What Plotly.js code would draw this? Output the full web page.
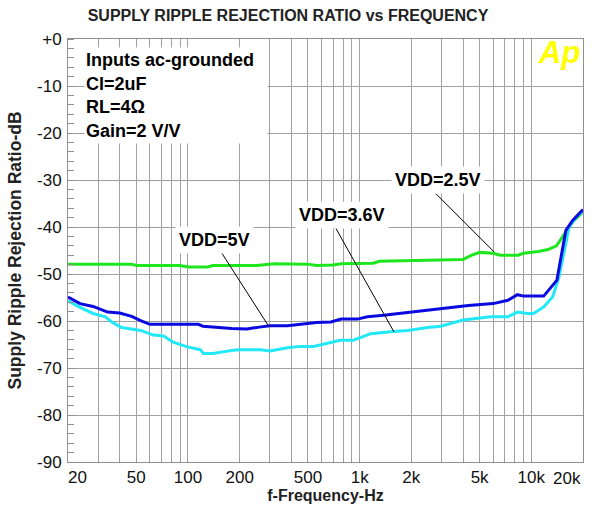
<!DOCTYPE html>
<html>
<head>
<meta charset="utf-8">
<script src="https://cdn.plot.ly/plotly-3.0.1.min.js"></script>
<style>html,body{margin:0;padding:0;background:#fff}#chart{width:592px;height:508px}</style>
</head>
<body>
<div id="chart"></div>
<script>
// ---- data ----
const vdd25Freq = [20, 30, 47, 50, 90, 100, 130, 140, 250, 320, 500, 560, 700, 780, 1200, 1300, 3000, 4000, 4500, 5000, 6000, 6600, 8400, 9000, 11000, 12500, 14000, 15200, 16300, 17500, 18600, 20000];
const vdd25Db   = [-47.9, -47.9, -47.9, -48.2, -48.2, -48.5, -48.5, -48.2, -48.2, -47.8, -47.9, -48.2, -48.1, -47.8, -47.7, -47.3, -47.0, -46.9, -46.0, -45.4, -45.6, -46.0, -46.0, -45.6, -45.2, -44.8, -44.0, -42.0, -40.3, -38.8, -37.9, -36.8];

const vdd5Freq = [20, 23.5, 28, 34, 40, 47, 53, 60, 115, 122, 180, 220, 260, 300, 380, 500, 560, 680, 780, 970, 1110, 1380, 1730, 2060, 2700, 4000, 4300, 6000, 7300, 8300, 9000, 11800, 12600, 14100, 14900, 15900, 17400, 20000];
const vdd5Db   = [-54.9, -56.3, -56.9, -58.1, -58.3, -59.0, -59.9, -60.7, -60.7, -61.1, -61.6, -61.7, -61.3, -61.0, -61.0, -60.6, -60.3, -60.2, -59.6, -59.6, -59.1, -58.8, -58.4, -58.1, -57.6, -56.9, -56.7, -56.3, -55.6, -54.4, -54.7, -54.7, -53.5, -51.3, -46.4, -40.7, -38.6, -36.3];

const vdd36Freq = [20, 23.5, 28, 33, 36, 41, 53, 63, 72, 82, 99, 118, 123, 140, 184, 200, 265, 300, 380, 450, 540, 650, 770, 920, 1010, 1160, 1510, 1900, 2490, 2970, 4000, 5800, 7300, 8300, 9500, 10300, 11800, 13300, 14500, 15500, 16600, 18600, 20000];
const vdd36Db   = [-55.7, -57.1, -58.4, -59.1, -60.2, -61.4, -62.0, -63.0, -63.2, -64.5, -65.5, -66.1, -66.9, -66.9, -66.2, -66.1, -66.1, -66.4, -65.7, -65.4, -65.4, -64.8, -64.1, -64.1, -63.5, -62.7, -62.3, -62.0, -61.4, -61.1, -59.8, -59.1, -59.1, -58.1, -58.4, -58.4, -57.0, -54.9, -50.6, -45.0, -40.0, -37.5, -36.8];

const xTickVals = [20, 30, 40, 50, 60, 70, 80, 90, 100, 200, 300, 400, 500, 600, 700, 800, 900, 1000, 2000, 3000, 4000, 5000, 6000, 7000, 8000, 9000, 10000, 20000];
const xTickText = ['20', '', '', '50', '', '', '', '', '100', '200', '', '', '500', '', '', '', '', '1k', '2k', '', '', '5k', '', '', '', '', '10k', '20k'];
const yTickVals = [0, -10, -20, -30, -40, -50, -60, -70, -80, -90];
const yTickText = ['+0', '-10', '-20', '-30', '-40', '-50', '-60', '-70', '-80', '-90'];

const seriesNames = ['VDD=2.5V', 'VDD=3.6V', 'VDD=5V'];
const infoLines = ['Inputs ac-grounded', 'Cl=2uF', 'RL=4\u03A9', 'Gain=2 V/V'];
const titleText = 'SUPPLY RIPPLE REJECTION RATIO vs FREQUENCY';
const xTitle = 'f-Frequency-Hz';
const yTitle = 'Supply Ripple Rejection Ratio-dB';

// ---- build ----
const FONT = 'Liberation Sans, Arial, sans-serif';
const NB = '\u00a0';
const lastIdx = xTickText.length - 1;
const xText = xTickText.slice();
xText[0] = NB.repeat(4) + xText[0];
xText[lastIdx] = '';   // last label drawn right-aligned below (it sits at the plot edge)

const traces = [
  {x: vdd25Freq, y: vdd25Db, name: seriesNames[0], mode: 'lines', line: {color: '#1ee61e', width: 3}},
  {x: vdd36Freq, y: vdd36Db, name: seriesNames[1], mode: 'lines', line: {color: '#22e8f8', width: 3}},
  {x: vdd5Freq,  y: vdd5Db,  name: seriesNames[2], mode: 'lines', line: {color: '#0a0ae0', width: 3}}
];

const gridC = '#a0a0a0';
const lg = Math.log10;

function arrow(f, db, ax, ay) {
  return {x: lg(f), y: db, xref: 'x', yref: 'y', text: '', showarrow: true, arrowhead: 0,
          arrowwidth: 1, arrowcolor: '#000', ax: ax, ay: ay, standoff: 0};
}
function label(txt, f, db) {
  return {x: lg(f), y: db, xref: 'x', yref: 'y', text: '<b>' + txt + '</b>', showarrow: false,
          bgcolor: '#fff', borderpad: 3, font: {family: FONT, size: 18, color: '#000'}};
}

const layout = {
  width: 592, height: 508,
  margin: {l: 68, r: 9, t: 39, b: 46, pad: 0},
  paper_bgcolor: '#fff', plot_bgcolor: '#fff',
  showlegend: false,
  font: {family: FONT, color: '#000', size: 17},
  title: {text: '<b>' + titleText + '</b>', font: {family: FONT, size: 16, color: '#222'},
          xref: 'container', yref: 'container', x: 0.4865, y: 1 - 15 / 508, xanchor: 'center', yanchor: 'middle'},
  xaxis: {
    type: 'log', range: [lg(20), lg(20000)],
    tickmode: 'array', tickvals: xTickVals, ticktext: xText,
    showgrid: true, gridcolor: gridC, gridwidth: 1,
    showline: true, mirror: true, linecolor: '#909090', linewidth: 1,
    ticks: '', zeroline: false, ticklabelstandoff: 0,
    tickfont: {family: FONT, size: 17, color: '#111'},
    title: {text: '<b>' + xTitle + '</b>', font: {family: FONT, size: 16, color: '#222'}, standoff: 1}
  },
  yaxis: {
    range: [-90, 0],
    tickmode: 'array', tickvals: yTickVals, ticktext: yTickText,
    showgrid: true, gridcolor: gridC, gridwidth: 1,
    showline: true, mirror: true, linecolor: '#909090', linewidth: 1,
    ticks: '', zeroline: false, ticklabelstandoff: 2,
    minor: {tickmode: 'linear', tick0: 0, dtick: 2, ticks: 'inside', ticklen: 6, tickcolor: '#909090', tickwidth: 1, showgrid: false},
    tickfont: {family: FONT, size: 17, color: '#111'},
    title: {text: '<b>' + yTitle + '</b>', font: {family: FONT, size: 17.5, color: '#222'}, standoff: 10}
  },
  annotations: [
    {xref: 'paper', yref: 'paper', x: (84 - 68) / 515, y: 1 - (47 - 39) / 423, xanchor: 'left', yanchor: 'top',
     align: 'left', valign: 'middle', showarrow: false, bgcolor: '#fff', borderpad: 1, width: 180, height: 93,
     text: '<b>' + infoLines.join('<br>') + '</b>', font: {family: FONT, size: 18, color: '#000'}},
    arrow(6070, -45.3, -60, -60),
    arrow(1583, -62.3, -60, -107),
    arrow(295, -61.1, -50, -78),
    label(seriesNames[0], 2848, -29.9),
    label(seriesNames[1], 794, -37.5),
    label(seriesNames[2], 142, -42.8),
    {xref: 'x', yref: 'paper', x: lg(xTickVals[lastIdx]), y: 0, xanchor: 'right', yanchor: 'middle',
     xshift: -1, yshift: -16, showarrow: false, borderpad: 0, text: xTickText[lastIdx],
     font: {family: FONT, size: 17, color: '#111'}},
    {xref: 'paper', yref: 'paper', x: (559 - 68) / 515, y: 1 - (52 - 39) / 423, xanchor: 'center', yanchor: 'middle',
     showarrow: false, text: '<b><i>Ap</i></b>', font: {family: FONT, size: 31, color: '#ffff00'}}
  ]
};

Plotly.newPlot('chart', traces, layout, {staticPlot: true, displayModeBar: false});
</script>
</body>
</html>
